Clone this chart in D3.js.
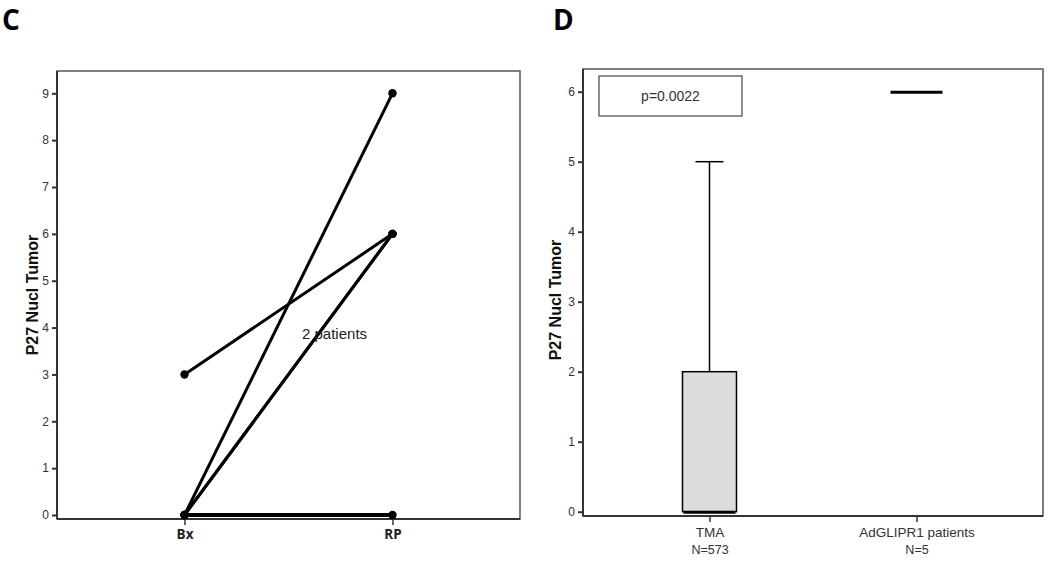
<!DOCTYPE html>
<html><head><meta charset="utf-8">
<script src="https://cdn.jsdelivr.net/npm/d3@7"></script>
<style>body{margin:0;background:#fff}svg{display:block}</style>
</head><body>
<svg id="c" width="1050" height="566"></svg>
<script>
// Panel C data: paired Bx -> RP scores per patient
const timepoints = ["Bx", "RP"];
const patientBx = [3, 0, 0, 0, 0];
const patientRP = [6, 9, 6, 6, 0];
const yTicksC = [0,1,2,3,4,5,6,7,8,9];
const annotC = "2 patients";

// Panel D data: box plot summaries
const groups = ["TMA", "AdGLIPR1 patients"];
const groupN = ["N=573", "N=5"];
const boxQ1 = [0, 6];
const boxMedian = [0, 6];
const boxQ3 = [2, 6];
const whiskerLo = [0, 6];
const whiskerHi = [5, 6];
const yTicksD = [0,1,2,3,4,5,6];
const pText = "p=0.0022";

const svg = d3.select("#c");
const tickFont = "Liberation Sans, Arial, sans-serif";

// ---------- Panel C ----------
const C = {l:57, r:520, t:71, b:519};
const xC = d3.scalePoint().domain(timepoints).range([C.l, C.r]).padding(0.613);
const yC = d3.scaleLinear().domain([0, 9]).range([515, 93.3]);

svg.append("text").attr("x", 2).attr("y", 30).text("C")
  .attr("font-family", "Open Sans, sans-serif").attr("font-weight", 700).attr("font-size", 28);

svg.append("rect").attr("x", C.l).attr("y", C.t).attr("width", C.r - C.l).attr("height", C.b - C.t)
  .attr("fill", "none").attr("stroke", "#555").attr("stroke-width", 1.5);

const gyC = svg.append("g").attr("transform", `translate(${C.l},0)`)
  .call(d3.axisLeft(yC).tickValues(yTicksC).tickFormat(d3.format("d")).tickSize(5).tickSizeOuter(0).tickPadding(3));
gyC.select(".domain").attr("stroke", "#333").attr("stroke-width", 2).attr("d", `M0,${C.t}V${C.b}`);
gyC.selectAll(".tick line").attr("stroke", "#333").attr("stroke-width", 2);
gyC.selectAll(".tick text").attr("font-family", tickFont).attr("font-size", 12).attr("fill", "#333");

const gxC = svg.append("g").attr("transform", `translate(0,${C.b})`)
  .call(d3.axisBottom(xC).tickSize(6).tickSizeOuter(0).tickPadding(4));
gxC.select(".domain").attr("stroke", "#333").attr("stroke-width", 2).attr("d", `M${C.l},0H${C.r}`);
gxC.selectAll(".tick line").attr("stroke", "#333").attr("stroke-width", 1.5).attr("y1", -4);
gxC.selectAll(".tick text").attr("font-family", "Open Sans, sans-serif").attr("font-weight", 700)
  .attr("font-size", 13.5).attr("fill", "#222");

svg.append("text").attr("transform", `translate(38,295) rotate(-90)`).attr("text-anchor", "middle")
  .attr("font-family", tickFont).attr("font-weight", 700).attr("font-size", 16).attr("fill", "#111")
  .text("P27 Nucl Tumor");

const pairs = patientBx.map((v, i) => ({bx: v, rp: patientRP[i], zero: v === 0 && patientRP[i] === 0}));
svg.append("g").selectAll("line").data(pairs).join("line")
  .attr("x1", xC("Bx")).attr("x2", xC("RP"))
  .attr("y1", d => yC(d.bx)).attr("y2", d => yC(d.rp))
  .attr("stroke", "#000").attr("stroke-width", d => d.zero ? 4 : 3);
const pts = [];
pairs.forEach(d => { pts.push({x: "Bx", y: d.bx}); pts.push({x: "RP", y: d.rp}); });
svg.append("g").selectAll("circle").data(pts).join("circle")
  .attr("cx", d => xC(d.x)).attr("cy", d => yC(d.y)).attr("r", 4.2).attr("fill", "#000");

svg.append("text").attr("x", 302).attr("y", 339).text(annotC)
  .attr("font-family", tickFont).attr("font-size", 15).attr("fill", "#222");

// ---------- Panel D ----------
const D = {l:583, r:1043, t:69, b:516};
const xD = d3.scalePoint().domain(groups).range([D.l, D.r]).padding(0.611);
const yD = d3.scaleLinear().domain([0, 6]).range([511.7, 91.7]);

svg.append("text").attr("x", 553).attr("y", 30).text("D")
  .attr("font-family", "Open Sans, sans-serif").attr("font-weight", 700).attr("font-size", 28);

svg.append("rect").attr("x", D.l).attr("y", D.t).attr("width", D.r - D.l).attr("height", D.b - D.t)
  .attr("fill", "none").attr("stroke", "#555").attr("stroke-width", 1.5);

const gyD = svg.append("g").attr("transform", `translate(${D.l},0)`)
  .call(d3.axisLeft(yD).tickValues(yTicksD).tickFormat(d3.format("d")).tickSize(5).tickSizeOuter(0).tickPadding(3));
gyD.select(".domain").attr("stroke", "#333").attr("stroke-width", 2).attr("d", `M0,${D.t}V${D.b}`);
gyD.selectAll(".tick line").attr("stroke", "#333").attr("stroke-width", 2);
gyD.selectAll(".tick text").attr("font-family", tickFont).attr("font-size", 12).attr("fill", "#333");

const gxD = svg.append("g").attr("transform", `translate(0,${D.b})`)
  .call(d3.axisBottom(xD).tickSize(6).tickSizeOuter(0).tickPadding(5));
gxD.select(".domain").attr("stroke", "#333").attr("stroke-width", 2).attr("d", `M${D.l},0H${D.r}`);
gxD.selectAll(".tick line").attr("stroke", "#333").attr("stroke-width", 1.5);
gxD.selectAll(".tick text").attr("font-family", tickFont).attr("font-size", 13.5).attr("fill", "#333");
gxD.selectAll(".tick").append("text").attr("y", 38).attr("text-anchor", "middle")
  .attr("font-family", tickFont).attr("font-size", 12.5).attr("fill", "#333")
  .text((d, i) => groupN[i]);

svg.append("text").attr("transform", `translate(561,300) rotate(-90)`).attr("text-anchor", "middle")
  .attr("font-family", tickFont).attr("font-weight", 700).attr("font-size", 16).attr("fill", "#111")
  .text("P27 Nucl Tumor");

const boxes = groups.map((g, i) => ({g, q1: boxQ1[i], med: boxMedian[i], q3: boxQ3[i], lo: whiskerLo[i], hi: whiskerHi[i]}));
const bw = 27, cw = 14, mw = 26;
const gb = svg.append("g");
boxes.forEach(b => {
  const cx = xD(b.g);
  if (b.hi > b.q3) {
    gb.append("line").attr("x1", cx).attr("x2", cx).attr("y1", yD(b.q3)).attr("y2", yD(b.hi))
      .attr("stroke", "#000").attr("stroke-width", 1.5);
    gb.append("line").attr("x1", cx - cw).attr("x2", cx + cw).attr("y1", yD(b.hi)).attr("y2", yD(b.hi))
      .attr("stroke", "#000").attr("stroke-width", 1.5);
  }
  if (b.q3 > b.q1) {
    gb.append("rect").attr("x", cx - bw).attr("width", 2 * bw)
      .attr("y", yD(b.q3)).attr("height", yD(b.q1) - yD(b.q3))
      .attr("fill", "#dcdcdc").attr("stroke", "#000").attr("stroke-width", 1.5);
  }
  gb.append("line").attr("x1", cx - mw).attr("x2", cx + mw).attr("y1", yD(b.med) + 0.5).attr("y2", yD(b.med) + 0.5)
    .attr("stroke", "#000").attr("stroke-width", 3);
});

svg.append("rect").attr("x", 599).attr("y", 76).attr("width", 143).attr("height", 40)
  .attr("fill", "#fff").attr("stroke", "#444").attr("stroke-width", 1.2);
svg.append("text").attr("x", 670.5).attr("y", 101).attr("text-anchor", "middle")
  .attr("font-family", tickFont).attr("font-size", 14).attr("fill", "#333").text(pText);
</script>
</body></html>
